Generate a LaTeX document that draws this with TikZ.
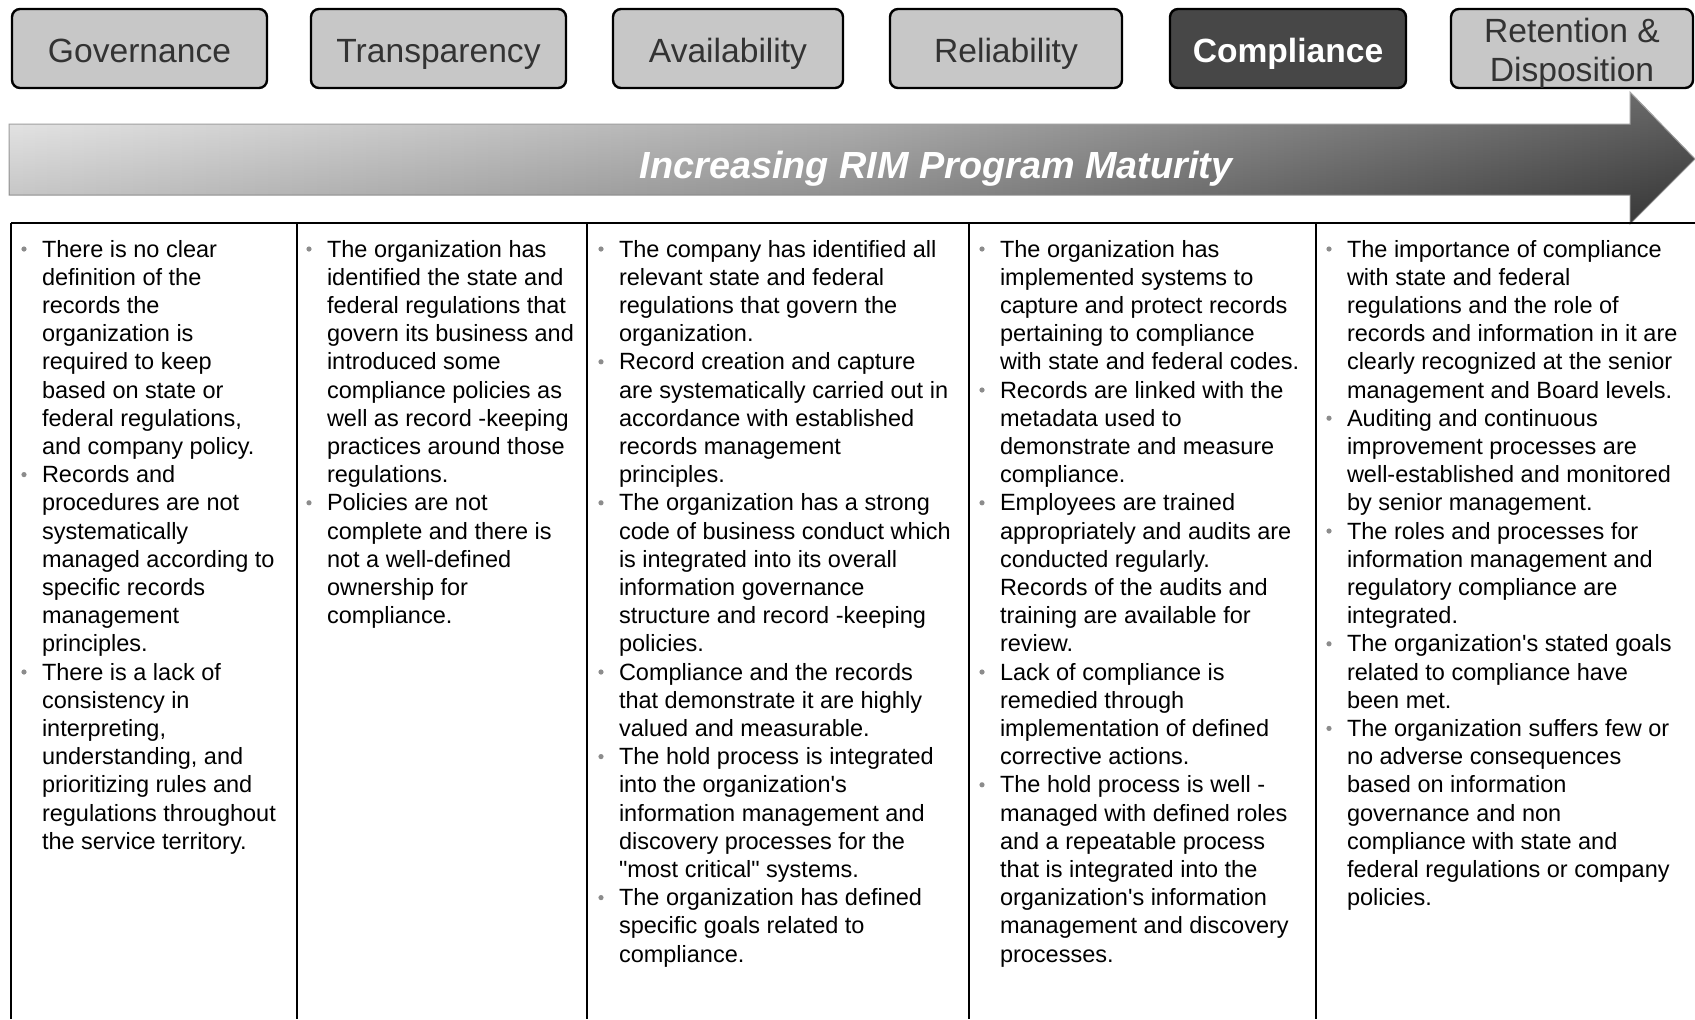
\documentclass[tikz,border=0pt]{standalone}
\usepackage{fontspec}
\newfontfamily\arial{Liberation Sans}
\tikzset{
every picture/.style={
line width=1pt
}}

\begin{document}
\begin{tikzpicture}[x=0.5pt, y=-0.5pt,
stage/.style = {rectangle, rounded corners=4pt, draw=black, line width=1.2pt, fill=black!22, text=black!80, font=\fontsize{16.8}{19}\arial, minimum height=39.5pt, inner sep=0pt, text height=15pt, text depth=1.5pt},
current/.style = {stage, fill=black!72, text=white, font=\fontsize{16.8}{19}\arial\bfseries},
line/.style = {anchor=base west, inner sep=0pt, font=\fontsize{11.75}{14.1}\arial},
dot/.style = {circle, fill=black!45, inner sep=0pt, minimum size=2.6pt}]

\useasboundingbox (0,0) rectangle (1695,1019);

% stages
\node[stage, minimum width=127.5pt] (gov) at (139.5,48.5) {Governance};
\node[stage, minimum width=127.5pt] (trans) at (438.5,48.5) {Transparency};
\node[stage, minimum width=115pt] (avail) at (728,48.5) {Availability};
\node[stage, minimum width=116pt] (rel) at (1006,48.5) {Reliability};
\node[current, minimum width=118pt] (comp) at (1288,48.5) {Compliance};
\node[stage, minimum width=121pt] (ret) at (1572,48.5) {};
\node[align=center, inner sep=0pt, text=black!80, font=\fontsize{16.8}{19.5}\arial] (retlbl) at (1572,53) {Retention \&\\Disposition};

% maturity arrow
\shade[left color=black!8, right color=black!75, middle color=black!35, draw=black!40, line width=0.5pt] (9,124) -- (1630,124) -- (1630,92) -- (1695,159) -- (1630,224) -- (1630,195) -- (9,195) -- cycle;
\shade[top color=white, bottom color=black, fill opacity=0.2] (9,124) -- (1630,124) -- (1630,92) -- (1695,159) -- (1630,224) -- (1630,195) -- (9,195) -- cycle;
\node[text=white, inner sep=0pt, font=\fontsize{18.9}{20}\arial\bfseries\itshape] (mat) at (936,169) {Increasing RIM Program Maturity};

% table
\draw (11,223) -- (1695,223);
\foreach \x in {11,297,587,969,1316}
  \draw (\x,223) -- (\x,1019);

\foreach \k/\t [count=\i from 0] in {b/{There is no clear}, n/{definition of the}, n/{records the}, n/{organization is}, n/{required to keep}, n/{based on state or}, n/{federal regulations,}, n/{and company policy.}, b/{Records and}, n/{procedures are not}, n/{systematically}, n/{managed according to}, n/{specific records}, n/{management}, n/{principles.}, b/{There is a lack of}, n/{consistency in}, n/{interpreting,}, n/{understanding, and}, n/{prioritizing rules and}, n/{regulations throughout}, n/{the service territory.}} {
  \node[line] (c1-\i) at (41,257+\i*28.2) {\t};
  \if\k b \node[dot] (c1b\i) at (24,249+\i*28.2) {}; \fi
}

\foreach \k/\t [count=\i from 0] in {b/{The organization has}, n/{identified the state and}, n/{federal regulations that}, n/{govern its business and}, n/{introduced some}, n/{compliance policies as}, n/{well as record -keeping}, n/{practices around those}, n/{regulations.}, b/{Policies are not}, n/{complete and there is}, n/{not a well-defined}, n/{ownership for}, n/{compliance.}} {
  \node[line] (c2-\i) at (326,257+\i*28.2) {\t};
  \if\k b \node[dot] (c2b\i) at (309,249+\i*28.2) {}; \fi
}

\foreach \k/\t [count=\i from 0] in {b/{The company has identified all}, n/{relevant state and federal}, n/{regulations that govern the}, n/{organization.}, b/{Record creation and capture}, n/{are systematically carried out in}, n/{accordance with established}, n/{records management}, n/{principles.}, b/{The organization has a strong}, n/{code of business conduct which}, n/{is integrated into its overall}, n/{information governance}, n/{structure and record -keeping}, n/{policies.}, b/{Compliance and the records}, n/{that demonstrate it are highly}, n/{valued and measurable.}, b/{The hold process is integrated}, n/{into the organization's}, n/{information management and}, n/{discovery processes for the}, n/{"most critical" systems.}, b/{The organization has defined}, n/{specific goals related to}, n/{compliance.}} {
  \node[line] (c3-\i) at (618,257+\i*28.2) {\t};
  \if\k b \node[dot] (c3b\i) at (601,249+\i*28.2) {}; \fi
}

\foreach \k/\t [count=\i from 0] in {b/{The organization has}, n/{implemented systems to}, n/{capture and protect records}, n/{pertaining to compliance}, n/{with state and federal codes.}, b/{Records are linked with the}, n/{metadata used to}, n/{demonstrate and measure}, n/{compliance.}, b/{Employees are trained}, n/{appropriately and audits are}, n/{conducted regularly.}, n/{Records of the audits and}, n/{training are available for}, n/{review.}, b/{Lack of compliance is}, n/{remedied through}, n/{implementation of defined}, n/{corrective actions.}, b/{The hold process is well -}, n/{managed with defined roles}, n/{and a repeatable process}, n/{that is integrated into the}, n/{organization's information}, n/{management and discovery}, n/{processes.}} {
  \node[line] (c4-\i) at (999,257+\i*28.2) {\t};
  \if\k b \node[dot] (c4b\i) at (982,249+\i*28.2) {}; \fi
}

\foreach \k/\t [count=\i from 0] in {b/{The importance of compliance}, n/{with state and federal}, n/{regulations and the role of}, n/{records and information in it are}, n/{clearly recognized at the senior}, n/{management and Board levels.}, b/{Auditing and continuous}, n/{improvement processes are}, n/{well-established and monitored}, n/{by senior management.}, b/{The roles and processes for}, n/{information management and}, n/{regulatory compliance are}, n/{integrated.}, b/{The organization's stated goals}, n/{related to compliance have}, n/{been met.}, b/{The organization suffers few or}, n/{no adverse consequences}, n/{based on information}, n/{governance and non}, n/{compliance with state and}, n/{federal regulations or company}, n/{policies.}} {
  \node[line] (c5-\i) at (1346,257+\i*28.2) {\t};
  \if\k b \node[dot] (c5b\i) at (1329,249+\i*28.2) {}; \fi
}
\end{tikzpicture}
\end{document}
